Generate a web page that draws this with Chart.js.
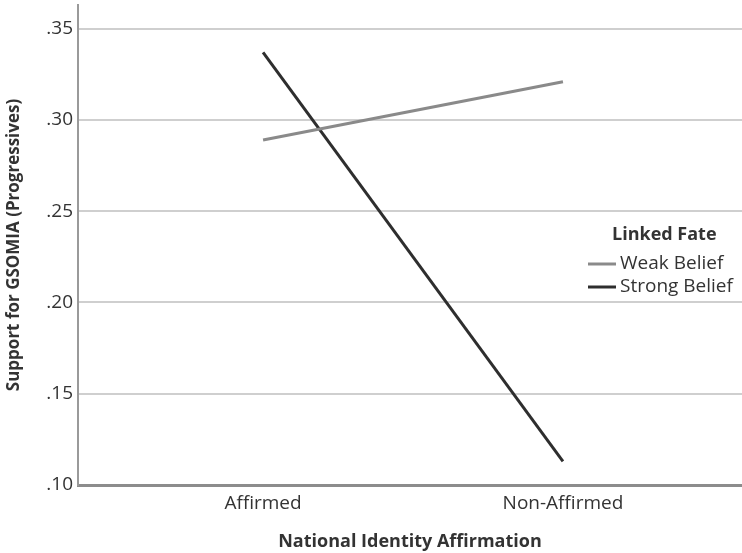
<!DOCTYPE html>
<html lang="en">

<head>
    <meta charset="UTF-8">
    <script src="https://cdn.jsdelivr.net/npm/chart.js@4.4.0/dist/chart.umd.min.js"></script>
    <style>
        body { margin: 0; background: #fff; }
        #wrap { width: 742px; height: 553px; }
    </style>
</head>

<body>
    <div id="wrap"><canvas id="myChart"></canvas></div>
    <script>
        // data
        const categories = ['Affirmed', 'Non-Affirmed'];
        const weakBelief = [0.289, 0.321];
        const strongBelief = [0.337, 0.113];
        const yTicks = [0.10, 0.15, 0.20, 0.25, 0.30, 0.35];
        const legendTitle = 'Linked Fate';

        const fontFam = "'Open Sans', 'Noto Sans', sans-serif";

        // categories sit at x = 1, 2 on a linear axis
        const toPoints = arr => arr.map((v, i) => ({ x: i + 1, y: v }));

        // legend drawn inside the plot on the right, like SPSS
        const legendPlugin = {
            id: 'sideLegend',
            afterDraw(chart) {
                const c = chart.ctx;
                c.save();
                c.textBaseline = 'middle';
                c.fillStyle = '#333';
                c.font = 'bold 18px ' + fontFam;
                c.textAlign = 'left';
                c.fillText(legendTitle, 612, 235);
                c.font = '19px ' + fontFam;
                chart.data.datasets.forEach((ds, i) => {
                    const y = 264 + i * 23;
                    c.strokeStyle = ds.borderColor;
                    c.lineWidth = 3;
                    c.beginPath();
                    c.moveTo(588, y);
                    c.lineTo(616, y);
                    c.stroke();
                    c.fillStyle = '#333';
                    c.fillText(ds.label, 620, y);
                });
                c.restore();
            }
        };

        new Chart(document.getElementById('myChart'), {
            type: 'line',
            data: {
                datasets: [{
                        label: 'Weak Belief',
                        data: toPoints(weakBelief),
                        borderColor: '#8a8a8a',
                        borderWidth: 3,
                        pointRadius: 0,
                    },
                    {
                        label: 'Strong Belief',
                        data: toPoints(strongBelief),
                        borderColor: '#2e2e2e',
                        borderWidth: 3,
                        pointRadius: 0,
                    }
                ]
            },
            plugins: [legendPlugin],
            options: {
                responsive: true,
                maintainAspectRatio: false,
                animation: false,
                layout: { padding: { top: 5, right: 0, left: 0, bottom: 0 } },
                plugins: {
                    legend: { display: false },
                    tooltip: { enabled: false }
                },
                scales: {
                    x: {
                        type: 'linear',
                        min: 0.383,
                        max: 2.597,
                        afterBuildTicks: s => { s.ticks = categories.map((c, i) => ({ value: i + 1 })); },
                        afterFit: s => { s.height = 68; s.paddingLeft = 0; s.paddingRight = 0; },
                        grid: { display: false, drawTicks: false },
                        border: { color: '#8c8c8c', width: 3 },
                        ticks: {
                            padding: 7,
                            color: '#333',
                            font: { family: fontFam, size: 19 },
                            callback: v => categories[v - 1] || ''
                        },
                        title: {
                            display: true,
                            text: 'National Identity Affirmation',
                            color: '#333',
                            font: { family: fontFam, size: 18, weight: 'bold' },
                            padding: { top: 8, bottom: 0 }
                        }
                    },
                    y: {
                        min: 0.10,
                        max: 0.363,
                        afterBuildTicks: s => { s.ticks = yTicks.map(v => ({ value: v })); },
                        afterFit: s => { s.width = 78; s.paddingTop = 0; s.paddingBottom = 0; },
                        grid: { color: '#cfcfcf', lineWidth: 2, drawTicks: false },
                        border: { color: '#9a9a9a', width: 2 },
                        ticks: {
                            padding: 5,
                            color: '#333',
                            font: { family: fontFam, size: 19 },
                            callback: v => v.toFixed(2).replace(/^0/, '')
                        },
                        title: {
                            display: true,
                            text: 'Support for GSOMIA (Progressives)',
                            color: '#333',
                            font: { family: fontFam, size: 17, weight: 'bold' },
                            padding: { top: 4, bottom: 0 }
                        }
                    }
                }
            }
        });
    </script>
</body>

</html>
